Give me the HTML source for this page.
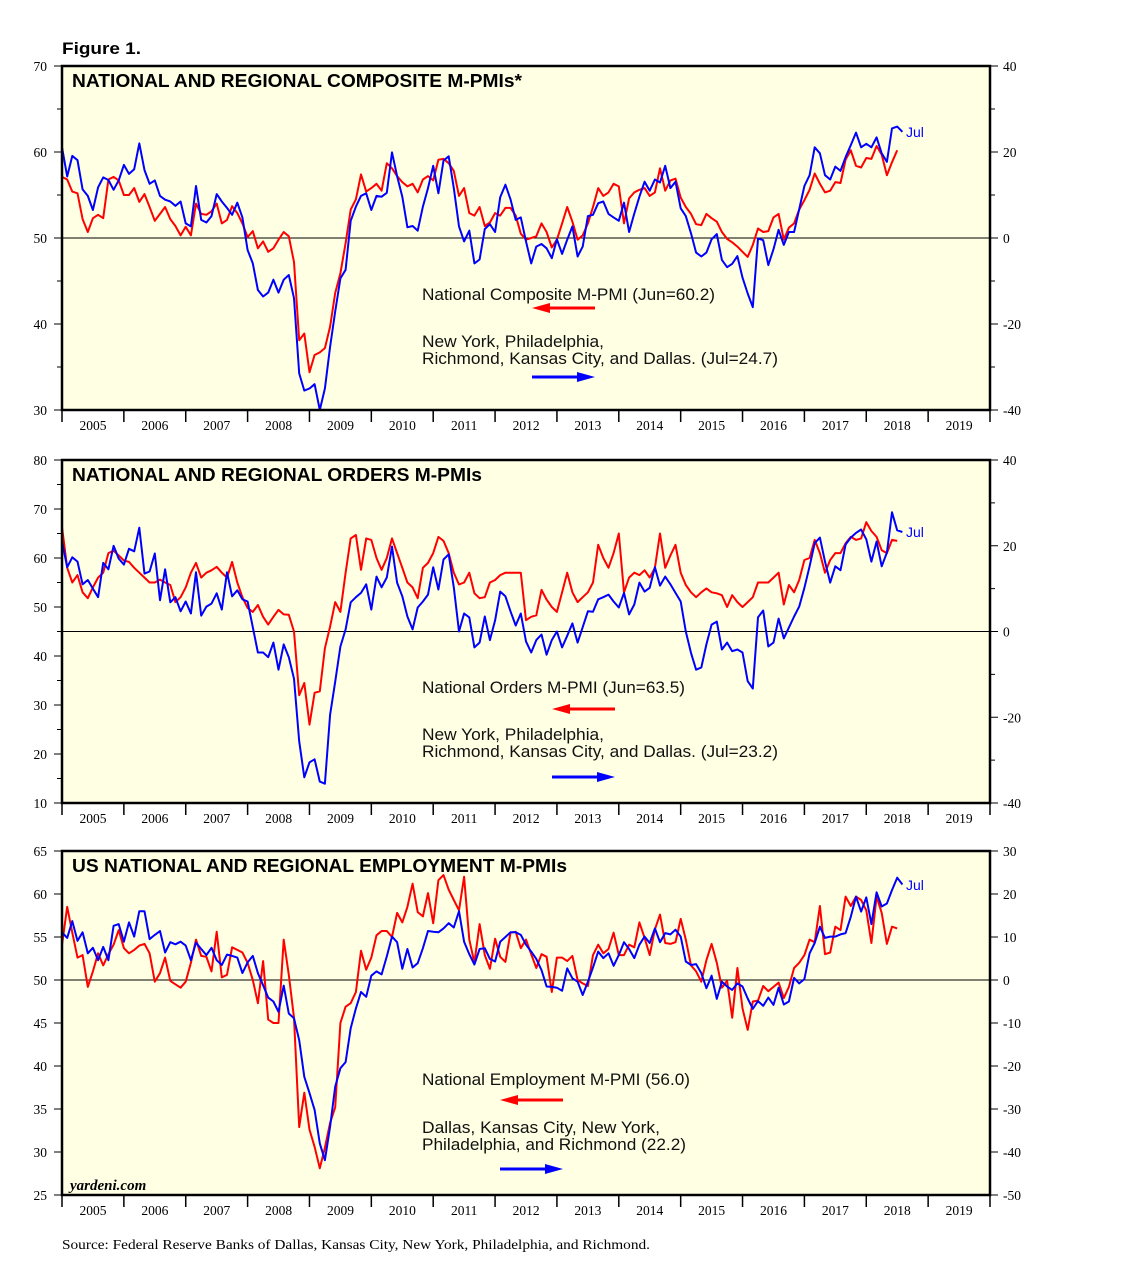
<!DOCTYPE html>
<html><head><meta charset="utf-8"><style>
body{margin:0;background:#fff}
svg{display:block}
.ser{font-family:"Liberation Serif",serif}
.san{font-family:"Liberation Sans",sans-serif}
</style></head><body>
<svg id="fig" width="1138" height="1284" viewBox="0 0 1138 1284" xmlns="http://www.w3.org/2000/svg">
<text x="62" y="54" class="san" font-size="17" font-weight="bold" textLength="79" lengthAdjust="spacingAndGlyphs">Figure 1.</text>
<text x="62" y="1249" class="ser" font-size="13.5" textLength="588" lengthAdjust="spacingAndGlyphs">Source: Federal Reserve Banks of Dallas, Kansas City, New York, Philadelphia, and Richmond.</text>
</svg>
<script>
// ---- data (monthly, index 0 = Jan 2005) ----
const years = [2005,2006,2007,2008,2009,2010,2011,2012,2013,2014,2015,2016,2017,2018,2019];
const p1Ticks = [30,40,50,60,70];
const p1RTicks = [-40,-20,0,20,40];
const p2Ticks = [10,20,30,40,50,60,70,80];
const p2RTicks = [-40,-20,0,20,40];
const p3Ticks = [25,30,35,40,45,50,55,60,65];
const p3RTicks = [-50,-40,-30,-20,-10,0,10,20,30];

const compositeNational = [57.1,56.8,55.4,55.2,52.2,50.7,52.3,52.7,52.3,56.8,57.1,56.7,55,55,55.8,54.2,55.1,53.6,52,52.8,53.6,52.2,51.4,50.3,51.3,50.3,54,52.8,52.7,53.1,54,51.7,52.1,53.7,52.9,51.7,50.1,50.8,48.8,49.6,48.4,48.8,49.8,50.7,50.2,47.2,38.1,38.9,34.4,36.4,36.7,37.2,39.7,43.6,45.9,49.4,53.3,54.5,57.4,55.4,55.8,56.3,55.5,58.7,58.1,57.2,56.5,56,56.3,55.3,56.8,57.2,56.7,59.1,59.2,58.7,57.8,54.9,55.8,52.9,52.6,53.6,51.4,51.8,52.9,52.6,53.5,53.5,52.6,50.5,49.8,50,50.2,51.7,50.7,48.9,49.8,51.7,53.6,51.9,49.8,50.3,51.7,53.6,55.8,54.9,55.3,56.3,56,51.7,54.6,55.3,55.6,55.8,54.9,55.3,58.1,55.5,56.7,56.9,54.7,53.6,52.8,51.6,51.5,52.8,52.3,51.9,50.7,49.9,49.5,49,48.4,47.8,49.2,51.1,50.7,50.8,52.4,52.8,49.8,51.2,51.7,53.3,54.4,55.6,57.5,56.3,55.3,55.5,56.5,56.4,59.1,60.2,58.4,58.2,59.3,59.2,60.7,59.7,57.3,58.8,60.2];
const compositeRegional = [21.1,14.3,19.1,18.1,11.3,9.8,6.5,11.8,14.1,13.5,11.2,13.4,17,14.9,16,22,15.8,12.6,13.4,9.8,8.9,8.5,7.5,8.5,3.4,2.7,12.1,4.2,3.6,5.1,10.2,8.5,7,5.4,8.2,4.8,-2.8,-5.9,-12.1,-13.6,-12.7,-9.7,-12.7,-9.7,-8.6,-14,-31.5,-35.5,-35,-34,-40,-35,-25.3,-17.1,-9.4,-7.4,4,7.3,9.8,10.4,6.5,9.8,9.6,10.5,19.9,14.4,9.6,2.5,2.8,1.7,7.3,11.6,16.8,10.4,18,19,11.6,2.7,-0.8,1.7,-5.9,-5,2.1,3.2,1.4,9.5,12.4,9,4.2,4.8,-0.8,-5.9,-2,-1.4,-2.4,-4.7,-0.3,-3.7,-0.4,2.7,-4.3,-2,5.1,5.4,8.1,8.5,5.6,4.8,4,8.2,1.4,5.7,9.6,13.1,11,13.6,12.9,16.8,11.6,13.1,6.9,5.1,1.1,-3.4,-4.3,-3.4,-0.3,0.9,-5.1,-6.8,-6,-4.2,-9.2,-12.9,-16.1,-0.1,-0.5,-6.3,-2.6,1.9,-1.6,1.4,1.4,6.7,12.1,14.6,21.1,19.7,14.6,13.6,16.6,15.6,18.8,21.6,24.5,21.1,21.9,21.1,23.4,19.7,17.7,25.5,25.9,24.7];

const ordersNational = [66.3,58,55,56.5,53,51.8,54,56,57,61,61.5,60.5,59.5,59.2,58,57,56,55,55,55.6,55,54.5,51,52,54,57,59,56,57,57.5,58.2,57,56,59.2,55,52,49.8,49,50.4,48,46.4,48,49.4,48.5,48.4,45,32,34.5,26,32.5,32.8,41.6,46,51,49,57,64,64.7,57.6,64,63.7,60,57.6,60,64,61,58,55,54,51.8,58,59,61,64.3,63.5,61,57,54.6,55,57,52.8,51.8,52,55,55.5,56.5,57,57,57,57,47.3,48,48.3,53.5,51.5,50,49,53,57,53,51,52,53,55,62.7,60,58,61,65,53,56,57,56.5,57.5,56,58,65,58,60.5,62.7,57,54.5,53,52,53,53.8,53,52.8,52.4,50,52.4,51,50,51,52,55,55,55,56,57,50.5,54.5,53,55.5,59.6,60,63.7,61,57,59.6,61,61,63,64.3,63.7,64,67.3,65.5,64.3,61.6,61,63.7,63.5];
const ordersRegional = [21,15,17.3,16.3,11,12,10,8,16,14.5,20,17,15.6,19.3,18.7,24.2,13.5,14,18.2,7.3,14.5,6.8,8,4.7,7,4.2,13.8,3.7,5.8,6.5,8.9,5.1,13.8,8.2,9.6,7.5,7,1,-4.9,-4.9,-6,-2.6,-8.9,-3,-6,-11,-25.6,-34,-30.5,-29.8,-35,-35.5,-19.4,-11.7,-3.5,0.5,6.8,8,9,11,5.1,12.8,10.3,12.6,19.8,11.4,8.2,3.5,0.5,5.6,7,8.6,15,9.8,16.8,18,10.3,0,4.2,3.3,-3.7,-2.6,3.5,-2,2.6,9.3,8.2,4.7,1.4,4.2,-2.3,-4.9,-2,-0.7,-5.4,-2,0,-3.7,-1,1.9,-2.6,1,4.7,4.6,7.5,8,8.6,7,5.6,9,4,6.3,11.4,9.3,10.2,15,10.7,12.8,11,9,7,0,-5,-8.9,-8.4,-3,1.6,2.3,-4.2,-2.6,-4.6,-4.2,-4.9,-11.6,-13.3,3.3,4.9,-3.5,-2.6,3,-1.6,0.9,3.5,5.8,10.2,15.2,20.6,21.9,16.3,11.4,15.2,14.3,20.3,21.9,23,23.8,21.5,16.3,21,15.2,18.4,27.8,23.6,23.2];

const employNational = [54.1,58.5,55.5,52.6,52.9,49.2,51,53.1,51.7,53,54.1,55.8,53.7,53.1,53.5,54,54.2,53.1,49.8,50.8,52.6,49.9,49.5,49.1,49.8,52,54.7,52.8,52.7,51,55.6,50.3,50.6,53.8,53.5,53.2,52,50,47.3,52.2,45.4,45,45,54.7,50.6,45.6,32.9,36.9,32.6,30.6,28.1,30.5,33.4,35.2,45,46.9,47.3,48.6,53.4,51.2,52.6,55.2,55.7,55.7,55,57.8,56.7,58.5,61.2,57.9,57.4,60.1,56.6,61.6,62.2,60.5,59.3,58.1,62,54.7,52,56.5,52.9,51.3,54.8,52.7,52.1,55.5,55.6,53.7,54.7,53,51.4,53,52.7,48.6,52.6,52.6,52.2,52.8,50,49.6,49.3,52.9,54.1,53.1,53.6,55.5,52.9,52.9,54.1,53.8,56.7,54.9,52.9,55.9,57.6,54.3,54.2,54.4,57.1,54.7,51.7,51,49.8,52.3,54.2,52,49.1,49.9,45.6,51.4,46.7,44.2,47.5,47.6,49.3,48.7,49.2,49.7,47.9,49.2,51.4,52,52.9,54.7,54.4,58.6,53,53.2,56.2,55.8,59.7,58.6,59.7,59.3,58.1,54.3,59.7,57.8,54.2,56.2,56];
const employRegional = [11.1,9.8,13.7,9.1,11.1,6.2,7.5,4.6,7.7,4.6,12.6,13,8.9,13.4,10.1,16,16,9.5,10.5,11.4,6.4,8.8,8.3,8.9,8,4.6,8.7,7.2,5.8,7.5,4.6,3.5,5.9,5.6,5.2,1.6,4.1,5.6,1.6,-1.2,-4.1,-5,-7.4,-1.3,-7.8,-8.9,-14,-22.5,-26.3,-30.2,-38,-41.9,-34.1,-24.8,-20.5,-19.1,-11.2,-6.6,-2.8,-3.9,1,2,1.3,5.5,10.1,8.8,2.6,7.2,2.9,3.9,7.4,11.4,11.2,11.1,12,13.2,12.2,16,8.9,6,3.6,7.2,7.4,4.9,4.3,8.9,10,11.1,11.1,10.5,8.2,6.6,4.9,2.3,-1.5,-1.6,-1.8,-2.5,2.7,0.4,-0.4,-3.5,-0.4,2.9,6.6,5.1,6.2,3.3,5.8,8.8,7.2,5.1,8.2,10.1,8.6,12,8.8,10.9,10.6,11.7,10.1,4.3,3.5,3.7,1.6,-1.9,1,-4.4,-0.4,-1.5,-2.3,-0.8,-1.5,-4.3,-6.7,-4.9,-6,-4.1,-5.8,-1.8,-5.7,-5,0.5,-0.8,0.2,6.2,8.6,12.4,9.8,10.1,10.1,10.6,10.9,14.7,19.4,15.9,19.2,13,20.4,17.1,17.8,20.9,23.8,22.2];

// ---- layout ----
const NS='http://www.w3.org/2000/svg';
const svg=document.getElementById('fig');
const X0=62, X1=990, MONTH=(X1-X0)/(15*12);
function xm(m){return X0+m*MONTH;}
function mk(tag,attrs,parent){const e=document.createElementNS(NS,tag);for(const k in attrs)e.setAttribute(k,attrs[k]);(parent||svg).appendChild(e);return e;}

const panels=[
 {key:'composite',top:66,bot:410,lmin:30,lmax:70,rmin:-40,rmax:40,lt:p1Ticks,rt:p1RTicks,lminor:5,rminor:10,zero:50,
  title:'NATIONAL AND REGIONAL COMPOSITE M-PMIs*',tw:450,red:compositeNational,blue:compositeRegional,
  l1:'National Composite M-PMI (Jun=60.2)',l2:'New York, Philadelphia,',l3:'Richmond, Kansas City, and Dallas. (Jul=24.7)',lw:[293,182,356],
  ly:[300,347,364],ra:[308,595,532],ba:[377,532,595],jul:137},
 {key:'orders',top:460,bot:803,lmin:10,lmax:80,rmin:-40,rmax:40,lt:p2Ticks,rt:p2RTicks,lminor:5,rminor:10,zero:45,
  title:'NATIONAL AND REGIONAL ORDERS M-PMIs',tw:410,red:ordersNational,blue:ordersRegional,
  l1:'National Orders M-PMI (Jun=63.5)',l2:'New York, Philadelphia,',l3:'Richmond, Kansas City, and Dallas. (Jul=23.2)',lw:[263,182,356],
  ly:[693,740,757],ra:[709,615,552],ba:[777,552,615],jul:537},
 {key:'employment',top:851,bot:1195,lmin:25,lmax:65,rmin:-50,rmax:30,lt:p3Ticks,rt:p3RTicks,lminor:null,rminor:null,zero:50,
  title:'US NATIONAL AND REGIONAL EMPLOYMENT M-PMIs',tw:495,red:employNational,blue:employRegional,
  l1:'National Employment M-PMI (56.0)',l2:'Dallas, Kansas City, New York,',l3:'Philadelphia, and Richmond (22.2)',lw:[268,238,264],
  ly:[1085,1133,1150],ra:[1100,563,500],ba:[1169,500,563],jul:890}
];

panels.forEach(p=>{
  const g=mk('g',{});
  
  
  const yl=v=>p.bot-(v-p.lmin)/(p.lmax-p.lmin)*(p.bot-p.top);
  const yr=v=>p.bot-(v-p.rmin)/(p.rmax-p.rmin)*(p.bot-p.top);
  const bg=mk('rect',{x:X0,y:p.top,width:X1-X0,height:p.bot-p.top,fill:'#ffffe4'},g);
  
  
  const z=mk('line',{x1:X0,x2:X1,y1:yl(p.zero),y2:yl(p.zero),stroke:'#000','stroke-width':1},g);
  
  
  p.lt.forEach(v=>{
    const y=yl(v);
    mk('line',{x1:X0-8,x2:X0,y1:y,y2:y,stroke:'#000','stroke-width':1},g);
    const t=mk('text',{x:X0-15,y:y+5,'text-anchor':'end','font-size':13.5,class:'ser'},g);
    t.textContent=v;
    
    
  });
  if(p.lminor){for(let v=p.lmin+p.lminor;v<p.lmax;v+=p.lminor*2){const y=yl(v);mk('line',{x1:X0-5,x2:X0,y1:y,y2:y,stroke:'#000','stroke-width':1},g);}}
  p.rt.forEach(v=>{
    const y=yr(v);
    mk('line',{x1:X1,x2:X1+8,y1:y,y2:y,stroke:'#000','stroke-width':1},g);
    const t=mk('text',{x:X1+13,y:y+5,'font-size':13.5,class:'ser'},g);
    t.textContent=v;
    
    
  });
  if(p.rminor){for(let v=p.rmin+p.rminor;v<p.rmax;v+=p.rminor*2){const y=yr(v);mk('line',{x1:X1,x2:X1+5,y1:y,y2:y,stroke:'#000','stroke-width':1},g);}}
  years.forEach((yv,i)=>{
    const x=xm(i*12);
    mk('line',{x1:x,x2:x,y1:p.bot,y2:p.bot+12,stroke:'#000','stroke-width':1.5},g);
    const t=mk('text',{x:x+31,y:p.bot+20,'text-anchor':'middle','font-size':13.5,class:'ser'},g);
    t.textContent=yv;
    
    
  });
  mk('line',{x1:X1,x2:X1,y1:p.bot,y2:p.bot+12,stroke:'#000','stroke-width':1.5},g);
  const rp=p.red.map((v,i)=>xm(i).toFixed(1)+','+yl(v).toFixed(1)).join(' ');
  const rl=mk('polyline',{points:rp,fill:'none',stroke:'#ff0000','stroke-width':2,'stroke-linejoin':'round'},g);
  
  
  const bp=p.blue.map((v,i)=>xm(i).toFixed(1)+','+yr(v).toFixed(1)).join(' ');
  const bl=mk('polyline',{points:bp,fill:'none',stroke:'#0000ff','stroke-width':2,'stroke-linejoin':'round'},g);
  
  
  mk('rect',{x:X0,y:p.top,width:X1-X0,height:p.bot-p.top,fill:'none',stroke:'#000','stroke-width':2.5},g);
  const tt=mk('text',{x:72,y:p.top+21,'font-size':18,'font-weight':'bold',class:'san',textLength:p.tw,lengthAdjust:'spacingAndGlyphs'},g);
  tt.textContent=p.title;
  
  
  const lg=mk('g',{class:'san','font-size':16.5,fill:'#111'},g);
  
  
  [p.l1,p.l2,p.l3].forEach((s,i)=>{const t=mk('text',{x:422,y:p.ly[i],textLength:p.lw[i],lengthAdjust:'spacingAndGlyphs'},lg);t.textContent=s;});
  const [ry,rx0,rx1]=p.ra;
  mk('line',{x1:rx0,x2:rx1+14,y1:ry,y2:ry,stroke:'#ff0000','stroke-width':3},lg);
  mk('polygon',{points:`${rx1},${ry} ${rx1+18},${ry-5} ${rx1+18},${ry+5}`,fill:'#ff0000'},lg);
  const [by,bx0,bx1]=p.ba;
  mk('line',{x1:bx0,x2:bx1-14,y1:by,y2:by,stroke:'#0000ff','stroke-width':3},lg);
  mk('polygon',{points:`${bx1},${by} ${bx1-18},${by-5} ${bx1-18},${by+5}`,fill:'#0000ff'},lg);
  const jl=mk('text',{x:906,y:p.jul,'font-size':14,fill:'#0000ff',class:'san'},g);
  jl.textContent='Jul';
  
  
});
const yd=mk('text',{x:70,y:1190,'font-size':15,'font-style':'italic','font-weight':'bold',class:'ser'});
yd.textContent='yardeni.com';


</script>
</body></html>
